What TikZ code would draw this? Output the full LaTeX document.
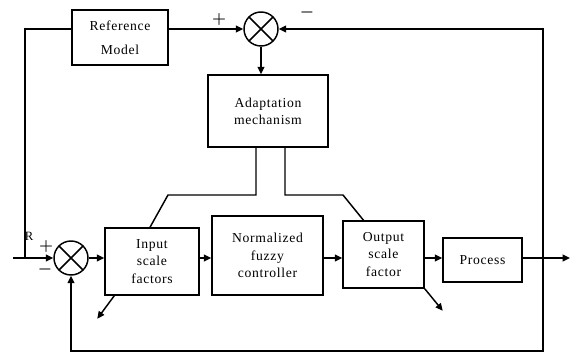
\documentclass[tikz,border=0pt]{standalone}
\usepackage{fontspec}
\setmainfont{Liberation Serif}[LetterSpace=5]
\usetikzlibrary{arrows.meta,calc}

\tikzset{every picture/.style={line width=1.1pt}}
\tikzset{
  blk/.style={draw, align=center, inner sep=1pt, font=\fontsize{10.25}{13}\selectfont},
  sumj/.style={draw, circle, minimum size=25.5pt, inner sep=0pt,
    path picture={\draw (path picture bounding box.south west) -- (path picture bounding box.north east)
      (path picture bounding box.north west) -- (path picture bounding box.south east);}},
  sig/.style={-{Triangle[length=5.5pt,width=5pt]}},
  lbl/.style={inner sep=0.75pt, font=\fontsize{12}{14}\selectfont\boldmath}
}

\begin{document}
\begin{tikzpicture}[x=0.75pt,y=0.75pt,yscale=-1,xscale=1]
\useasboundingbox (0,0) rectangle (571,354);

%Shape: Rectangle [refm]
\node[blk, minimum width=72pt, minimum height=41.25pt] (refm) at (120,37.5) {Reference\\[5pt]Model};
%Shape: Rectangle [adapt]
\node[blk, minimum width=90pt, minimum height=54pt] (adapt) at (268,111) {Adaptation\\mechanism};
%Shape: Rectangle [inp]
\node[blk, minimum width=70.5pt, minimum height=50.25pt] (inp) at (152,261.5) {Input\\scale\\factors};
%Shape: Rectangle [nfc]
\node[blk, minimum width=83.25pt, minimum height=59.25pt] (nfc) at (267.5,255.5) {Normalized\\fuzzy\\controller};
%Shape: Rectangle [outp]
\node[blk, minimum width=60.75pt, minimum height=50.25pt] (outp) at (383.5,254.5) {Output\\scale\\factor};
%Shape: Rectangle [proc]
\node[blk, minimum width=59.25pt, minimum height=33pt] (proc) at (482.5,260) {Process};

%Shape: Summing junctions
\node[sumj] (sumt) at (261,29) {};
\node[sumj] (sumb) at (71,258) {};

%Coordinates
\coordinate (in) at (13,258);
\coordinate (lft) at (25,258);
\coordinate (tap) at (543,258);
\coordinate (out) at (570,258);
\coordinate (bot) at (543,351);
\coordinate (al) at (256,195);
\coordinate (ar) at (285,195);

%Straight Lines: forward path
\draw[sig] (in) -- (sumb.west);
\draw[sig] (sumb.east) -- (sumb.east -| inp.west);
\draw[sig] (inp.east |- sumb) -- (nfc.west |- sumb);
\draw[sig] (nfc.east |- sumb) -- (outp.west |- sumb);
\draw[sig] (outp.east |- sumb) -- (proc.west |- sumb);
\draw[sig] (proc.east |- sumb) -- (out);

%Straight Lines: reference loop
\draw (lft) |- (refm.west |- sumt);
\draw[sig] (refm.east |- sumt) -- (sumt.west);
\draw[sig] (tap) |- (sumt.east);
\draw[sig] (sumt.south) -- (sumt.south |- adapt.north);

%Straight Lines: feedback
\draw[sig] (tap) -- (bot) -| (sumb.south);

%Straight Lines: adaptation outputs
\draw (adapt.south -| al) -- (al) -- ++(-88,0) -- ($(inp.north)+(-2,0)$);
\draw (adapt.south -| ar) -- (ar) -- ++(58,0) -- ($(outp.north)+(-20,0)$);

%Straight Lines: side outputs
\draw[sig] ($(inp.south west)+(10,0)$) -- ++(-17,23);
\draw[sig] (outp.south east) -- ++(18,22);

% Text Node
\node[lbl] (rlab) at (29,236) {\fontsize{9.5}{11}\selectfont R};
% Text Node
\node[lbl] (pb) at (46,246) {$+$};
% Text Node
\node[lbl] (mb) at (45,269) {$-$};
% Text Node
\node[lbl] (pt) at (219,19) {$+$};
% Text Node
\node[lbl] (mt) at (307,12) {$-$};

\end{tikzpicture}
\end{document}
